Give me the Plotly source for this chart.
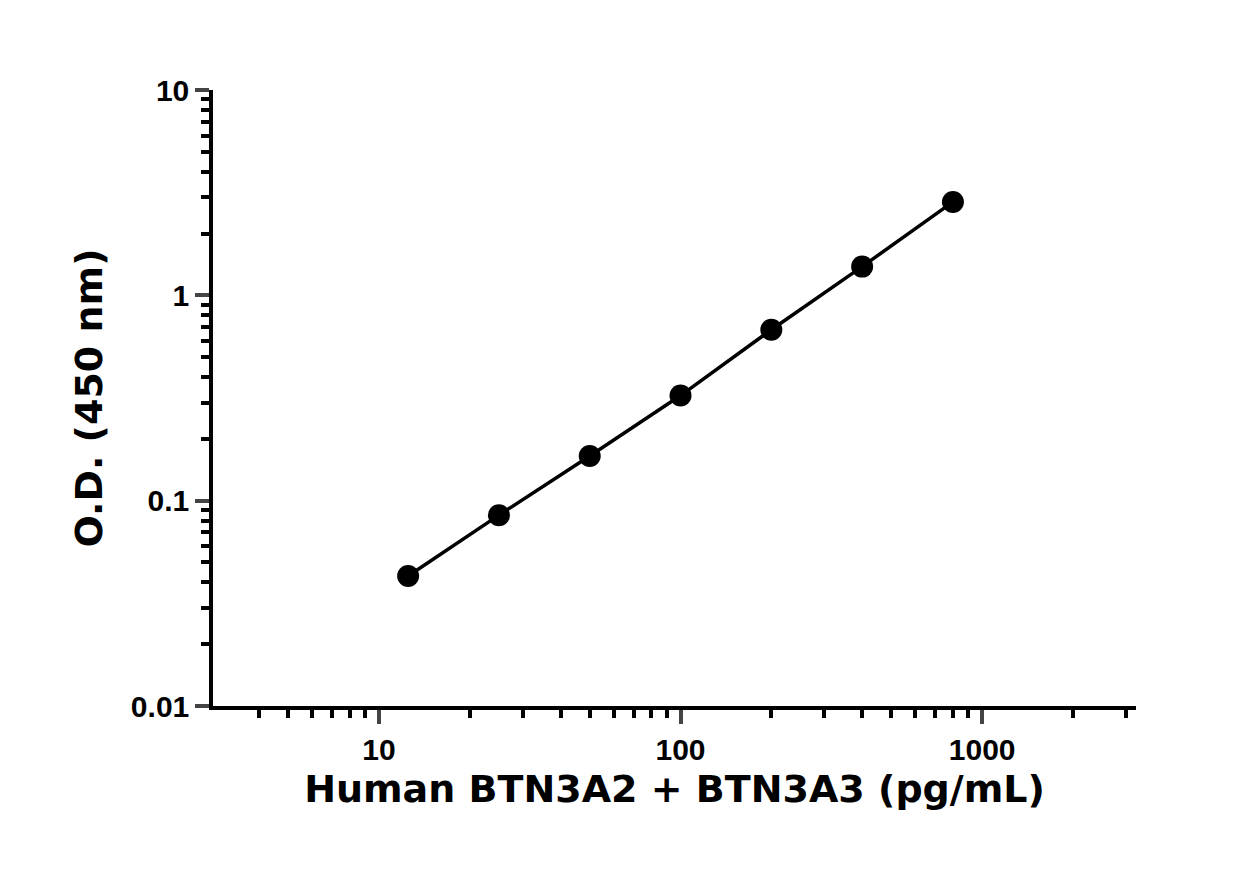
import plotly.graph_objects as go

conc = [12.5, 25, 50, 100, 200, 400, 800]
od = [0.043, 0.085, 0.165, 0.325, 0.68, 1.38, 2.85]

x_major = [10, 100, 1000]
x_minor = [m * d for d in (1, 10, 100, 1000) for m in range(2, 10) if 3.5 < m * d < 3300]
y_major = [0.01, 0.1, 1, 10]
y_minor = [m * d for d in (0.01, 0.1, 1) for m in range(2, 10)]

fig = go.Figure(go.Scatter(
    x=conc, y=od, mode="lines+markers",
    line=dict(color="black", width=3.5),
    marker=dict(color="black", size=22),
))

tickfont = dict(family="Liberation Sans Narrow, Liberation Sans", size=30, color="black", weight="bold")
titlefont = dict(family="DejaVu Sans", size=38, color="black", weight="bold")

fig.update_layout(
    width=1250, height=869, plot_bgcolor="white", paper_bgcolor="white",
    margin=dict(l=205, r=122, t=82, b=171), showlegend=False,
    xaxis=dict(type="log", range=[0.45, 3.51], tickmode="array", tickvals=x_major,
               ticktext=["10", "100", "1000"], ticks="outside", ticklen=14, tickwidth=3.5,
               showline=True, linewidth=3.5, linecolor="black", showgrid=False, zeroline=False,
               tickfont=tickfont,
               minor=dict(tickmode="array", tickvals=x_minor, ticks="outside", ticklen=8,
                          tickwidth=3.5, tickcolor="black", showgrid=False),
               title=dict(text="Human BTN3A2 + BTN3A3 (pg/mL)", font=titlefont, standoff=12)),
    yaxis=dict(type="log", range=[-2, 1], tickmode="array", tickvals=y_major,
               ticktext=["0.01", "0.1", "1", "10"], ticks="outside", ticklen=14, tickwidth=3.5,
               showline=True, linewidth=3.5, linecolor="black", showgrid=False, zeroline=False,
               tickfont=tickfont,
               minor=dict(tickmode="array", tickvals=y_minor, ticks="outside", ticklen=8,
                          tickwidth=3.5, tickcolor="black", showgrid=False),
               title=dict(text="O.D. (450 nm)", font=titlefont, standoff=18)),
)
fig.write_html("out.html")
